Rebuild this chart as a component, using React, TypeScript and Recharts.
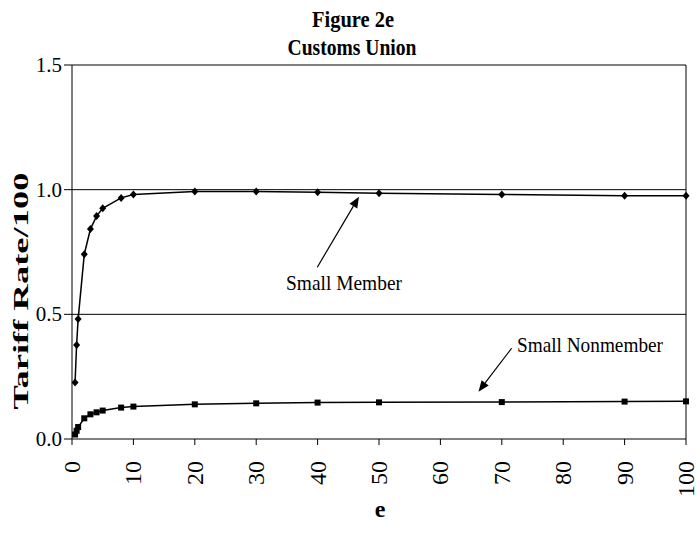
import React from 'react'
import { LineChart, Line, XAxis, YAxis, ReferenceLine, ReferenceDot } from 'recharts'

// e values sampled in the figure
const eValues = [0.5, 0.75, 1, 2, 3, 4, 5, 8, 10, 20, 30, 40, 50, 70, 90, 100]
const smallMember = [0.227, 0.377, 0.481, 0.741, 0.842, 0.894, 0.925, 0.967, 0.981, 0.993, 0.993, 0.99, 0.986, 0.981, 0.976, 0.976]
const smallNonmember = [0.018, 0.033, 0.048, 0.083, 0.099, 0.107, 0.114, 0.126, 0.13, 0.139, 0.143, 0.146, 0.147, 0.148, 0.15, 0.151]
const xTicks = [0, 10, 20, 30, 40, 50, 60, 70, 80, 90, 100]
const yTicks = [0, 0.5, 1.0, 1.5]
const gridY = [0.5, 1.0, 1.5]

const rows = eValues.map((e, i) => ({ e, member: smallMember[i], nonmember: smallNonmember[i] }))

const txt = { fontFamily: 'Liberation Serif', fill: '#000' }

const Diamond = (p: any) => {
  const { cx, cy } = p
  if (cx == null || cy == null) return <g key={p.key} />
  return <path key={p.key} d={`M${cx},${cy - 4}L${cx + 3.5},${cy}L${cx},${cy + 4}L${cx - 3.5},${cy}Z`} fill="#000" />
}

const Square = (p: any) => {
  const { cx, cy } = p
  if (cx == null || cy == null) return <g key={p.key} />
  return <rect key={p.key} x={cx - 3} y={cy - 3} width={6} height={6} fill="#000" />
}

const Arrow = (p: any) => {
  const { x1, y1, x2, y2 } = p
  const a = Math.atan2(y2 - y1, x2 - x1)
  const len = 11, w = 4.5
  const bx = x2 - len * Math.cos(a), by = y2 - len * Math.sin(a)
  const px = -Math.sin(a) * w, py = Math.cos(a) * w
  return (
    <g>
      <line x1={x1} y1={y1} x2={bx} y2={by} stroke="#000" strokeWidth={1.2} />
      <polygon points={`${x2},${y2} ${bx + px},${by + py} ${bx - px},${by - py}`} fill="#000" />
    </g>
  )
}

const label = (text: string, len: number) => (p: any) => (
  <text x={p.cx} y={p.cy} textAnchor="middle" style={{ ...txt, fontSize: 22 }} textLength={len} lengthAdjust="spacingAndGlyphs">
    {text}
  </text>
)

const XTick = (p: any) => {
  const { x, y, payload } = p
  return (
    <text x={x} y={y} transform={`rotate(-90 ${x} ${y})`} textAnchor="end" dominantBaseline="central" style={{ ...txt, fontSize: 24 }}>
      {payload.value}
    </text>
  )
}

const YTick = (p: any) => {
  const { x, y, payload } = p
  return (
    <text x={x} y={y} textAnchor="end" dominantBaseline="central" style={{ ...txt, fontSize: 21 }}>
      {Number(payload.value).toFixed(1)}
    </text>
  )
}

export default function App() {
  return (
    <div style={{ position: 'absolute', left: 0, top: 0, width: 700, height: 535, background: '#fff' }}>
      <LineChart width={700} height={535} data={rows} margin={{ top: 65, right: 14, bottom: 0, left: 0 }}>
        <XAxis
          dataKey="e"
          type="number"
          domain={[0, 100]}
          ticks={xTicks}
          interval={0}
          height={96}
          axisLine={{ stroke: '#000' }}
          tickLine={{ stroke: '#000' }}
          tickSize={6}
          tickMargin={16}
          tick={<XTick />}
        />
        <YAxis
          type="number"
          domain={[0, 1.5]}
          ticks={yTicks}
          width={72}
          axisLine={{ stroke: '#000' }}
          tickLine={{ stroke: '#000' }}
          tickSize={8}
          tickMargin={2}
          tick={<YTick />}
        />
        {gridY.map(v => (
          <ReferenceLine key={v} y={v} stroke="#000" strokeWidth={1} />
        ))}
        <ReferenceLine x={100} stroke="#000" strokeWidth={1} />
        <Line dataKey="member" stroke="#000" strokeWidth={1.5} dot={Diamond} activeDot={false} isAnimationActive={false} />
        <Line dataKey="nonmember" stroke="#000" strokeWidth={1.5} dot={Square} activeDot={false} isAnimationActive={false} />
        <ReferenceLine segment={[{ x: 39.95, y: 0.689 }, { x: 46.74, y: 0.972 }]} shape={Arrow} />
        <ReferenceLine segment={[{ x: 71.6, y: 0.364 }, { x: 66.2, y: 0.19 }]} shape={Arrow} />
        <ReferenceDot x={44.3} y={0.598} r={0} shape={label('Small Member', 116)} />
        <ReferenceDot x={84.36} y={0.349} r={0} shape={label('Small Nonmember', 146)} />
      </LineChart>
      <svg width={700} height={535} style={{ position: 'absolute', left: 0, top: 0, pointerEvents: 'none' }}>
        <text x={353} y={27} textAnchor="middle" style={{ ...txt, fontSize: 23, fontWeight: 'bold' }} textLength={82} lengthAdjust="spacingAndGlyphs">
          Figure 2e
        </text>
        <text x={352} y={55} textAnchor="middle" style={{ ...txt, fontSize: 23, fontWeight: 'bold' }} textLength={129} lengthAdjust="spacingAndGlyphs">
          Customs Union
        </text>
        <text transform="translate(28 291) rotate(-90)" textAnchor="middle" style={{ ...txt, fontSize: 22, fontWeight: 'bold' }} textLength={237} lengthAdjust="spacingAndGlyphs">
          Tariff Rate/100
        </text>
        <text x={380} y={517} textAnchor="middle" style={{ ...txt, fontSize: 24, fontWeight: 'bold' }}>
          e
        </text>
      </svg>
    </div>
  )
}
